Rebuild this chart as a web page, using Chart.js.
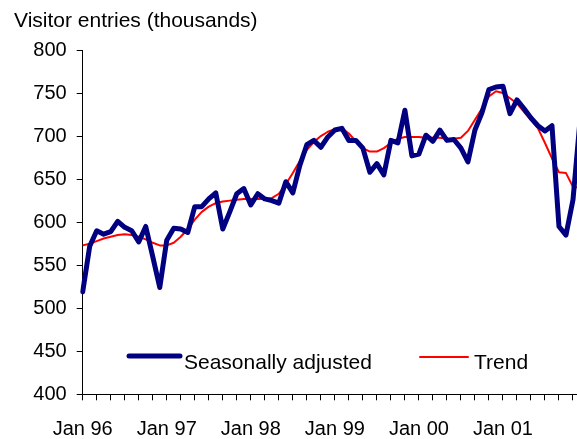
<!DOCTYPE html>
<html><head><meta charset="utf-8">
<script src="https://cdn.jsdelivr.net/npm/chart.js@4/dist/chart.umd.min.js"></script>
<style>html,body{margin:0;padding:0;overflow:hidden;background:#fff}#wrap{width:582px;height:439px;position:relative}</style>
</head><body><div id="wrap"><canvas id="c"></canvas></div>
<script>
const titleText = "Visitor entries (thousands)";
const months = [
 "Jan 96","Feb 96","Mar 96","Apr 96","May 96","Jun 96","Jul 96","Aug 96","Sep 96","Oct 96","Nov 96","Dec 96",
 "Jan 97","Feb 97","Mar 97","Apr 97","May 97","Jun 97","Jul 97","Aug 97","Sep 97","Oct 97","Nov 97","Dec 97",
 "Jan 98","Feb 98","Mar 98","Apr 98","May 98","Jun 98","Jul 98","Aug 98","Sep 98","Oct 98","Nov 98","Dec 98",
 "Jan 99","Feb 99","Mar 99","Apr 99","May 99","Jun 99","Jul 99","Aug 99","Sep 99","Oct 99","Nov 99","Dec 99",
 "Jan 00","Feb 00","Mar 00","Apr 00","May 00","Jun 00","Jul 00","Aug 00","Sep 00","Oct 00","Nov 00","Dec 00",
 "Jan 01","Feb 01","Mar 01","Apr 01","May 01","Jun 01","Jul 01","Aug 01","Sep 01","Oct 01","Nov 01","Dec 01"
];
const seasonallyAdjusted = [
 519,572,590,586,589,601,594,590,577,595,560,524,
 579,593,592,588,618,618,627,634,592,612,633,639,
 620,633,627,625,622,647,634,666,690,695,687,699,
 707,709,695,695,686,658,668,655,695,692,730,677,
 679,701,694,707,695,696,686,670,707,727,754,757,
 758,726,742,732,721,712,706,712,595,585,626,718
];
const trend = [
 573,575,578,581,583,585,586,585,583,580,576,573,
 573,576,583,592,603,612,618,622,624,625,626,627,
 627,627,627,628,633,644,657,671,684,693,700,705,
 708,709,703,694,686,682,682,686,692,697,699,699,
 699,698,698,698,697,697,698,706,719,732,746,752,
 750,744,738,728,719,709,692,674,658,657,641,640
];
const yTicks = [400,450,500,550,600,650,700,750,800];

const FONT = '"Liberation Sans", Arial, sans-serif';

const overlay = {
  id: 'overlay',
  afterDraw(chart) {
    const ctx = chart.ctx;
    ctx.save();
    ctx.fillStyle = '#000';
    ctx.textAlign = 'left';
    ctx.textBaseline = 'alphabetic';
    ctx.font = '21px ' + FONT;
    ctx.fillText(titleText, 14, 27);
    const items = [
      {x0: 129, x1: 180, y: 356, tx: 184},
      {x0: 420, x1: 468, y: 357, tx: 474}
    ];
    chart.data.datasets.forEach((ds, k) => {
      const it = items[k];
      ctx.beginPath();
      ctx.strokeStyle = ds.borderColor;
      ctx.lineWidth = ds.borderWidth;
      ctx.lineCap = 'round';
      ctx.moveTo(it.x0, it.y);
      ctx.lineTo(it.x1, it.y);
      ctx.stroke();
      ctx.fillStyle = '#000';
      ctx.font = '21px ' + FONT;
      ctx.fillText(ds.label, it.tx, 369);
    });
    ctx.restore();
  }
};

new Chart(document.getElementById('c'), {
  type: 'line',
  data: {
    labels: months,
    datasets: [
      {label: 'Seasonally adjusted', data: seasonallyAdjusted, borderColor: '#000080', borderWidth: 5,
       pointRadius: 0, tension: 0, borderJoinStyle: 'round', borderCapStyle: 'round'},
      {label: 'Trend', data: trend, borderColor: '#ff0000', borderWidth: 2,
       pointRadius: 0, tension: 0, borderJoinStyle: 'round'}
    ]
  },
  options: {
    responsive: true, maintainAspectRatio: false, animation: false, devicePixelRatio: 1,
    layout: {padding: {top: 50, right: 2, left: 0, bottom: 0}},
    plugins: {legend: {display: false}, tooltip: {enabled: false}, title: {display: false}},
    scales: {
      x: {
        type: 'category', offset: false,
        afterFit(s) { s.height = 44.7; s.paddingLeft = 0; s.paddingRight = 0; },
        border: {display: true, color: '#000', width: 1},
        grid: {drawOnChartArea: false, drawTicks: true, tickLength: 6, color: '#000'},
        ticks: {
          autoSkip: false, maxRotation: 0, minRotation: 0, padding: 17, color: '#000',
          font: {family: FONT, size: 20},
          callback(v, i) { return i % 12 === 0 ? months[i] : (i % 2 === 0 ? '' : null); }
        }
      },
      y: {
        min: 400, max: 800,
        afterFit(s) { s.width = 82.7; s.paddingTop = 0; s.paddingBottom = 0; },
        afterBuildTicks(s) { s.ticks = yTicks.map(v => ({value: v})); },
        border: {display: true, color: '#000', width: 1},
        grid: {drawOnChartArea: false, drawTicks: true, tickLength: 6, color: '#000'},
        ticks: {padding: 10, color: '#000', font: {family: FONT, size: 20}}
      }
    }
  },
  plugins: [overlay]
});
</script>
</body></html>
